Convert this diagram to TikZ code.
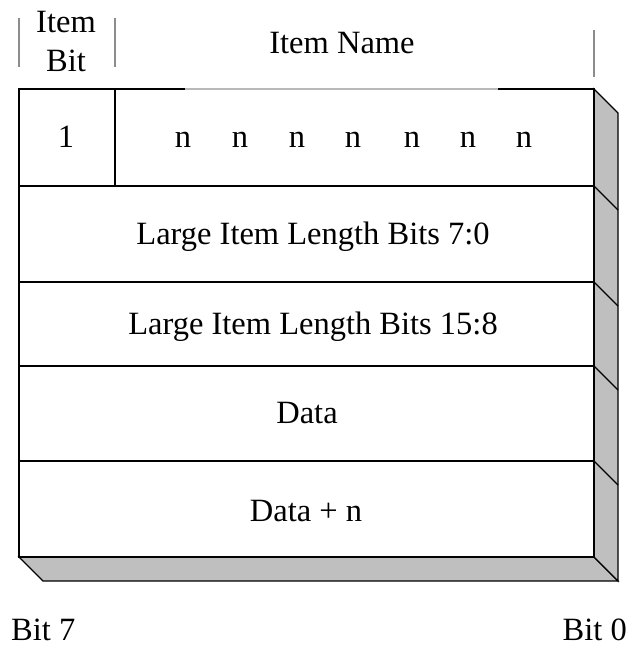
\documentclass[tikz,border=0pt]{standalone}
\usepackage{fontspec}
\setmainfont{Liberation Serif}
\begin{document}
\begin{tikzpicture}[x=1pt,y=-1pt,
  lbl/.style={inner sep=0pt,anchor=base,font=\fontsize{32.5}{38}\selectfont},
  edge/.style={line width=1.2pt,black},
  tick/.style={line width=1.5pt,gray!90},
  side/.style={fill=black!25,draw=black,line width=1.2pt,line join=miter}]
\useasboundingbox (0,0) rectangle (628,649);
% depth faces of the stacked record
\draw[side] (19,557) -- (43,581) -- (618,581) -- (594,557) -- cycle;
\draw[side] (594,89) -- (618,113) -- (618,581) -- (594,557) -- cycle;
\foreach \y in {186,282,366,461} \draw[edge] (594,\y) -- (618,\y+24);
% front face
\fill[white] (19,89) rectangle (594,557);
\draw[edge] (185,89) -- (19,89) -- (19,557) -- (594,557) -- (594,89) -- (498,89);
\draw[line width=1.2pt,gray!55] (185,89) -- (498,89);
\foreach \y in {186,282,366,461} \draw[edge] (19,\y) -- (594,\y);
\draw[edge] (115,89) -- (115,186);
% header ticks
\draw[tick] (19,18) -- (19,67);
\draw[tick] (115,18) -- (115,67);
\draw[tick] (594,30) -- (594,77);
% header labels
\node[lbl] (itemw) at (66,32) {Item};
\node[lbl] (bitw) at (66,71) {Bit};
\node[lbl] (iname) at (342,53) {Item Name};
% first byte
\node[lbl] (one) at (66,147) {1};
\foreach \x [count=\i] in {183,240,297,353,412,468,524}
  \node[lbl] (n\i) at (\x,147) {n};
\node[lbl] (len0) at (313,244) {Large Item Length Bits 7:0};
\node[lbl] (len1) at (313,334) {Large Item Length Bits 15:8};
\node[lbl] (data) at (307,423) {Data};
\node[lbl] (datan) at (306,521) {Data + n};
% bit order
\node[lbl,anchor=base west] (b7) at (11,640) {Bit 7};
\node[lbl,anchor=base east] (b0) at (627,640) {Bit 0};
\end{tikzpicture}
\end{document}
